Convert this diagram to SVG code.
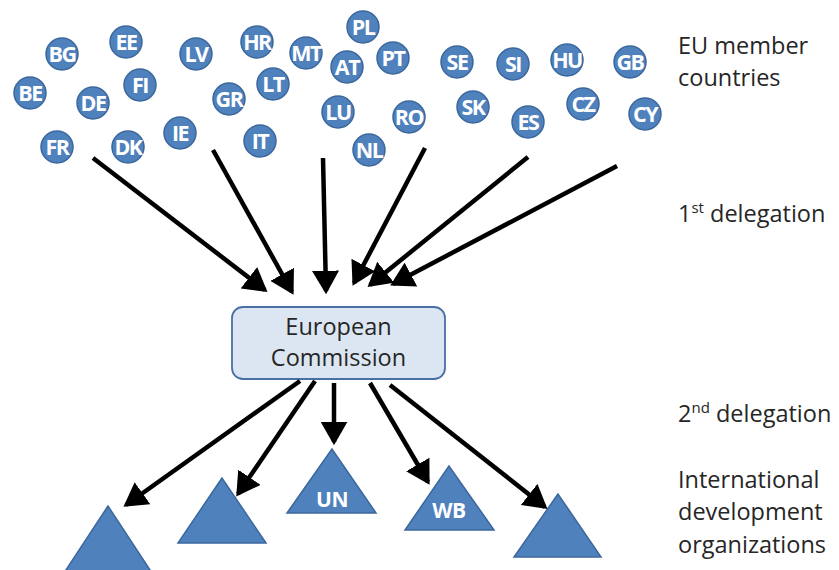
<svg xmlns="http://www.w3.org/2000/svg" width="839" height="570" viewBox="0 0 839 570">
<defs>
<style>
.c circle{fill:#4f81bd;stroke:#3b679c;stroke-width:1.5}
.c text{fill:#fff;font-family:"Open Sans","Liberation Sans",sans-serif;font-weight:bold;font-size:21.5px;text-anchor:middle;letter-spacing:-1.5px}
.t polygon{fill:#4f81bd;stroke:#3b679c;stroke-width:1.5}
.t text{fill:#fff;font-family:"Open Sans","Liberation Sans",sans-serif;font-weight:bold;font-size:21px;text-anchor:middle;letter-spacing:-0.5px}
.lbl{fill:#262626;font-family:"Open Sans","Liberation Sans",sans-serif;font-size:23.5px}
.conn line{stroke:#000;stroke-width:4.5;marker-end:url(#ah)}
</style>
<marker id="ah" markerWidth="6" markerHeight="6" refX="4.5" refY="3" orient="auto" markerUnits="strokeWidth" viewBox="0 0 6 6">
<path d="M0,0 L5.2,3 L0,6 Z" fill="#000"/>
</marker>
</defs>
<rect width="839" height="570" fill="#fff"/>
<g id="countries">
<g id="n-BG" class="c"><circle cx="62" cy="54" r="16"/><text x="62" y="62">BG</text></g>
<g id="n-EE" class="c"><circle cx="126" cy="42" r="16"/><text x="126" y="50">EE</text></g>
<g id="n-LV" class="c"><circle cx="196" cy="54" r="16"/><text x="196" y="62">LV</text></g>
<g id="n-HR" class="c"><circle cx="257" cy="42" r="16"/><text x="257" y="50">HR</text></g>
<g id="n-MT" class="c"><circle cx="306" cy="53" r="16"/><text x="306" y="61">MT</text></g>
<g id="n-BE" class="c"><circle cx="30" cy="93" r="16"/><text x="30" y="101">BE</text></g>
<g id="n-DE" class="c"><circle cx="93" cy="103" r="16"/><text x="93" y="111">DE</text></g>
<g id="n-FI" class="c"><circle cx="140" cy="85" r="16"/><text x="140" y="93">FI</text></g>
<g id="n-GR" class="c"><circle cx="229" cy="99" r="16"/><text x="229" y="107">GR</text></g>
<g id="n-LT" class="c"><circle cx="273" cy="84" r="16"/><text x="273" y="92">LT</text></g>
<g id="n-FR" class="c"><circle cx="57" cy="147" r="16"/><text x="57" y="155">FR</text></g>
<g id="n-DK" class="c"><circle cx="128" cy="147" r="16"/><text x="128" y="155">DK</text></g>
<g id="n-IE" class="c"><circle cx="180" cy="133" r="16"/><text x="180" y="141">IE</text></g>
<g id="n-IT" class="c"><circle cx="260" cy="141" r="16"/><text x="260" y="149">IT</text></g>
<g id="n-PL" class="c"><circle cx="363" cy="27" r="16"/><text x="363" y="35">PL</text></g>
<g id="n-AT" class="c"><circle cx="347" cy="67" r="16"/><text x="347" y="75">AT</text></g>
<g id="n-PT" class="c"><circle cx="393" cy="58" r="16"/><text x="393" y="66">PT</text></g>
<g id="n-SE" class="c"><circle cx="457" cy="62" r="16"/><text x="457" y="70">SE</text></g>
<g id="n-SI" class="c"><circle cx="513" cy="64" r="16"/><text x="513" y="72">SI</text></g>
<g id="n-HU" class="c"><circle cx="567" cy="60" r="16"/><text x="567" y="68">HU</text></g>
<g id="n-GB" class="c"><circle cx="630" cy="62" r="16"/><text x="630" y="70">GB</text></g>
<g id="n-LU" class="c"><circle cx="338" cy="112" r="16"/><text x="338" y="120">LU</text></g>
<g id="n-RO" class="c"><circle cx="409" cy="117" r="16"/><text x="409" y="125">RO</text></g>
<g id="n-SK" class="c"><circle cx="473" cy="107" r="16"/><text x="473" y="115">SK</text></g>
<g id="n-ES" class="c"><circle cx="528" cy="122" r="16"/><text x="528" y="130">ES</text></g>
<g id="n-CZ" class="c"><circle cx="583" cy="104" r="16"/><text x="583" y="112">CZ</text></g>
<g id="n-CY" class="c"><circle cx="645" cy="114" r="16"/><text x="645" y="122">CY</text></g>
<g id="n-NL" class="c"><circle cx="369" cy="150" r="16"/><text x="369" y="158">NL</text></g>
</g>
<g id="ec">
<rect x="232" y="307" width="213" height="72" rx="11" fill="#dce6f2" stroke="#4a6fa5" stroke-width="1.8"/>
<text class="lbl" x="338.5" y="335" text-anchor="middle">European</text>
<text class="lbl" x="338.5" y="366" text-anchor="middle">Commission</text>
</g>
<g id="orgs">
<g id="t1" class="t"><polygon points="108,506 62,576 154,576"/></g>
<g id="t2" class="t"><polygon points="222,478 178,543 266,543"/></g>
<g id="t-UN" class="t"><polygon points="332,449 287,513 376,513"/><text x="332" y="507">UN</text></g>
<g id="t-WB" class="t"><polygon points="449,466 405,530 494,530"/><text x="449" y="518">WB</text></g>
<g id="t5" class="t"><polygon points="558,494 514,557 601,557"/></g>
</g>
<g id="connectors" class="conn">
<line x1="93" y1="158" x2="265" y2="290"/>
<line x1="213" y1="150" x2="292" y2="292"/>
<line x1="323" y1="158" x2="326" y2="291"/>
<line x1="425" y1="148" x2="354" y2="283"/>
<line x1="528" y1="157" x2="370" y2="285"/>
<line x1="617" y1="166" x2="393" y2="284"/>
<line x1="300" y1="381" x2="126" y2="505"/>
<line x1="315" y1="381" x2="238" y2="494"/>
<line x1="334" y1="383" x2="334" y2="442"/>
<line x1="370" y1="383" x2="428" y2="482"/>
<line x1="390" y1="385" x2="545" y2="507"/>
</g>
<g id="labels" class="lbl">
<text class="lbl" x="678" y="54">EU member</text>
<text class="lbl" x="678" y="86">countries</text>
<text class="lbl" x="678" y="222">1<tspan dy="-9" font-size="15">st</tspan><tspan dy="9"> delegation</tspan></text>
<text class="lbl" x="678" y="422">2<tspan dy="-9" font-size="15">nd</tspan><tspan dy="9"> delegation</tspan></text>
<text class="lbl" x="678" y="488">International</text>
<text class="lbl" x="678" y="520">development</text>
<text class="lbl" x="678" y="553">organizations</text>
</g>
</svg>
